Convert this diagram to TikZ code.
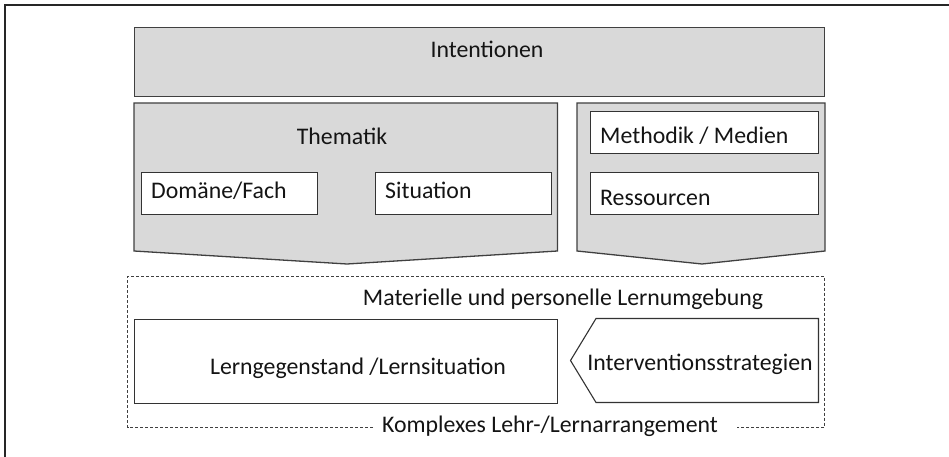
\documentclass[tikz,border=0pt]{standalone}
\usepackage{fontspec}
\setmainfont{Carlito}
\begin{document}
\begin{tikzpicture}[x=1pt,y=-1pt,
  lbl/.style={anchor=base,inner sep=0pt,font=\fontsize{23.8}{28}\selectfont,text=black!92},
  lbll/.style={lbl,anchor=base west},
  grayshape/.style={draw=black!75,line width=1.3pt,fill=black!15},
  whitebox/.style={draw=black!80,line width=1.1pt,fill=white},
  frameline/.style={draw=black!85,line width=1.8pt},
  dashbox/.style={draw=black!75,line width=0.9pt,dash pattern=on 3pt off 2pt}]
\useasboundingbox (0,0) rectangle (949,457);
% outer frame (right and bottom edges lie outside the picture)
\draw[frameline] (5,470) -- (5,5) -- (960,5);
% Intentionen
\node[grayshape,minimum width=690pt,minimum height=69pt,anchor=north west,inner sep=0pt] (int) at (134,27) {};
\node[lbl] (inttxt) at (487,58) {Intentionen};
% Thematik chevron
\draw[grayshape] (134,103) -- (557.5,103) -- (557.5,251) -- (347,264) -- (134,251) -- cycle;
\coordinate (them) at (347,264);
\node[lbl] (themtxt) at (342,145) {Thematik};
\node[whitebox,anchor=north west,minimum width=176pt,minimum height=42pt,inner sep=0pt] (dom) at (141,172) {};
\node[lbll] (domtxt) at (151,198) {Domäne/Fach};
\node[whitebox,anchor=north west,minimum width=176pt,minimum height=42pt,inner sep=0pt] (sit) at (375,172) {};
\node[lbll] (sittxt) at (385,198) {Situation};
% Methodik chevron
\draw[grayshape] (577,103) -- (825,103) -- (825,251) -- (702,264) -- (577,251) -- cycle;
\node[whitebox,anchor=north west,minimum width=228pt,minimum height=42pt,inner sep=0pt] (met) at (590,111) {};
\node[lbll] (mettxt) at (600,144) {Methodik / Medien};
\node[whitebox,anchor=north west,minimum width=228pt,minimum height=42pt,inner sep=0pt] (res) at (590,172) {};
\node[lbll] (restxt) at (600,205.5) {Ressourcen};
% dashed arrangement box
\draw[dashbox] (373,427) -- (127.5,427) -- (127.5,276) -- (824.5,276) -- (824.5,427) -- (737,427);
\node[lbl] (mat) at (563,305.5) {Materielle und personelle Lernumgebung};
\node[whitebox,anchor=north west,minimum width=423pt,minimum height=84pt,inner sep=0pt] (lern) at (134,318.5) {};
\node[lbl] (lerntxt) at (358,374) {Lerngegenstand /Lernsituation};
\draw[whitebox] (596,318.5) -- (818.5,318.5) -- (818.5,402.5) -- (596,402.5) -- (570.5,360.5) -- cycle;
\node[lbl] (intv) at (700,370) {Interventionsstrategien};
\node[lbl] (kompl) at (550,432.5) {Komplexes Lehr-/Lernarrangement};
\end{tikzpicture}
\end{document}
